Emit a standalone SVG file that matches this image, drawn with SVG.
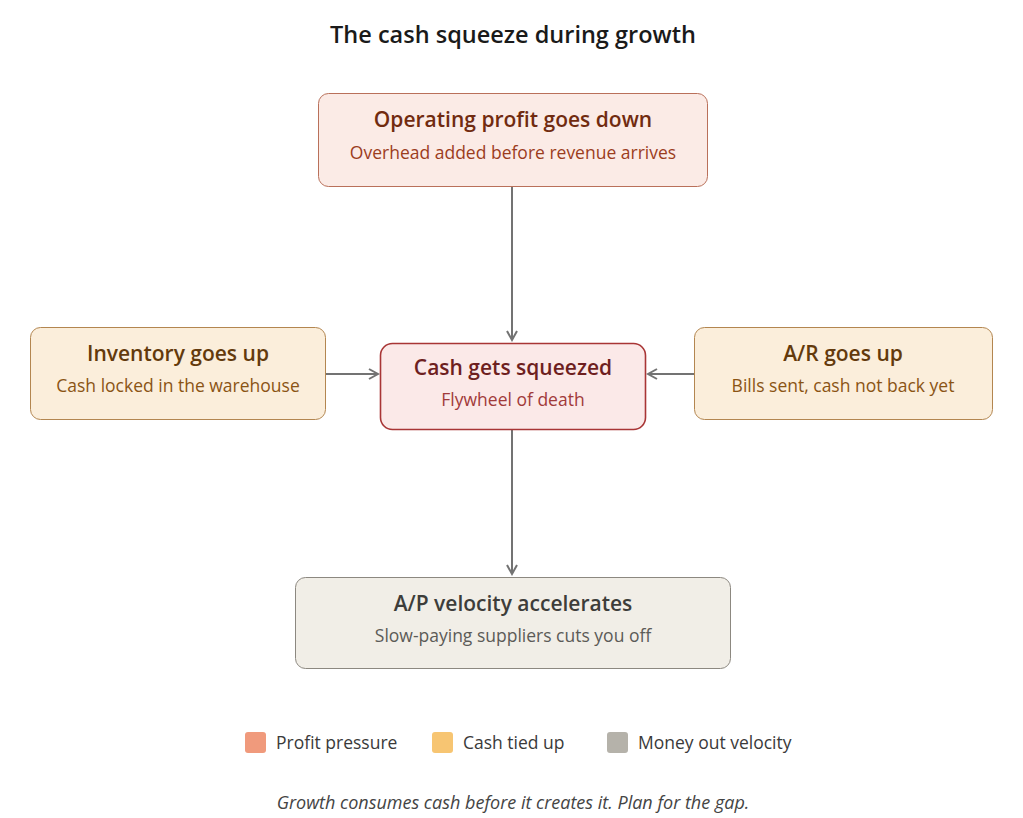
<svg xmlns="http://www.w3.org/2000/svg" width="1023" height="818" viewBox="0 0 1023 818">
<defs>
<marker id="arr" viewBox="0 0 12 12" refX="10" refY="6" markerWidth="12" markerHeight="12" markerUnits="userSpaceOnUse" orient="auto">
<path d="M1,1 L10,6 L1,11" fill="none" stroke="#737373" stroke-width="2"/>
</marker>
<style>
text{font-family:"Open Sans","Noto Sans","Liberation Sans",sans-serif;text-anchor:middle;dominant-baseline:central}
.t{font-size:21px;font-weight:600}
.s{font-size:17.5px}
.edge{stroke:#737373;stroke-width:2;fill:none;marker-end:url(#arr)}
.leg{font-size:17.5px;fill:#3a3a3a;text-anchor:start}
</style>
</defs>
<rect width="1023" height="818" fill="#ffffff"/>
<text x="513" y="34" style="font-size:23.5px;font-weight:600" fill="#1a1a1a">The cash squeeze during growth</text>
<g id="connectors">
<line class="edge" x1="512" y1="186" x2="512" y2="340"/>
<line class="edge" x1="326" y1="374" x2="378" y2="374"/>
<line class="edge" x1="694" y1="374" x2="648" y2="374"/>
<line class="edge" x1="512" y1="430" x2="512" y2="574"/>
</g>
<g id="op">
<rect x="318.5" y="93.5" width="389" height="93" rx="10" fill="#fbebe6" stroke="#b9705a" stroke-width="1"/>
<text class="t" x="513" y="119" fill="#712b10">Operating profit goes down</text>
<text class="s" x="513" y="152" fill="#9b3d1d">Overhead added before revenue arrives</text>
</g>
<g id="inv">
<rect x="30.5" y="327.5" width="295" height="92" rx="10" fill="#fbeedb" stroke="#b38650" stroke-width="1"/>
<text class="t" x="178" y="353" fill="#633a0c">Inventory goes up</text>
<text class="s" x="178" y="385" fill="#8a5414">Cash locked in the warehouse</text>
</g>
<g id="cash">
<rect x="380.5" y="343.5" width="265" height="86" rx="12" fill="#fbe9e8" stroke="#a83535" stroke-width="1.6"/>
<text class="t" x="513" y="367" fill="#6e1f1f">Cash gets squeezed</text>
<text class="s" x="513" y="399" fill="#a13a3a">Flywheel of death</text>
</g>
<g id="ar">
<rect x="694.5" y="327.5" width="298" height="92" rx="10" fill="#fbeedb" stroke="#b38650" stroke-width="1"/>
<text class="t" x="843" y="353" fill="#633a0c">A/R goes up</text>
<text class="s" x="843" y="385" fill="#8a5414">Bills sent, cash not back yet</text>
</g>
<g id="ap">
<rect x="295.5" y="577.5" width="435" height="91" rx="10" fill="#f1eee7" stroke="#8c8880" stroke-width="1"/>
<text class="t" x="513" y="603" fill="#3d3d3a">A/P velocity accelerates</text>
<text class="s" x="513" y="635" fill="#5c5b57">Slow-paying suppliers cuts you off</text>
</g>
<g id="legend">
<rect x="245" y="732" width="21" height="21" rx="3" fill="#f09a7c"/>
<text class="leg" x="276" y="742">Profit pressure</text>
<rect x="432" y="732" width="21" height="21" rx="3" fill="#f7c572"/>
<text class="leg" x="463" y="742">Cash tied up</text>
<rect x="607" y="732" width="21" height="21" rx="3" fill="#b5b2aa"/>
<text class="leg" x="638" y="742">Money out velocity</text>
</g>
<text x="513" y="802" style="font-size:18px;font-style:italic" fill="#444">Growth consumes cash before it creates it. Plan for the gap.</text>
</svg>
